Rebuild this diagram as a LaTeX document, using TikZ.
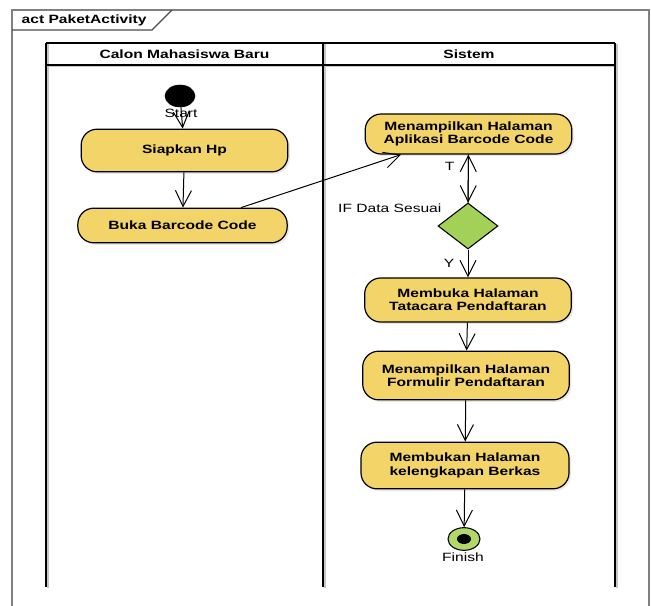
\documentclass[tikz,border=0pt]{standalone}
\usepackage{fontspec}
\setmainfont{Liberation Sans}[FakeStretch=1.3]
\usetikzlibrary{shapes.geometric,arrows.meta,shadows}
\definecolor{actside}{RGB}{242,212,104}
\definecolor{actmid}{RGB}{250,230,155}
\definecolor{decfill}{RGB}{163,209,88}
\definecolor{endfill}{RGB}{178,216,106}
\definecolor{framegray}{RGB}{128,128,128}
\tikzset{
  action/.style={draw, line width=0.9pt, left color=actside, middle color=actmid, right color=actside,
    rounded corners=12pt, minimum width=155pt, inner sep=0pt, align=center,
    drop shadow={shadow xshift=1.5pt, shadow yshift=-1.5pt, fill=black!18},
    font=\bfseries\fontsize{9}{10}\selectfont},
  flow/.style={-{Straight Barb[length=12pt,width=12pt]}, line width=0.75pt},
  guard/.style={inner sep=1pt, font=\fontsize{9}{10}\selectfont},
  lanehead/.style={font=\bfseries\fontsize{9}{10}\selectfont},
  lane/.style={line width=1.5pt},
  laneshade/.style={line width=1.5pt, black!22},
}
\begin{document}
\begin{tikzpicture}[x=0.75pt, y=-0.75pt]
    \useasboundingbox (0,0) rectangle (651,606);
    % frame
    \draw[framegray, line width=0.8pt] (12,606) -- (12,10) -- (649,10) -- (649,606);
    \draw[black!70, line width=0.8pt] (12,30) -- (152,30) -- (172,10);
    \node[lanehead, anchor=west] (title) at (17,20) {act PaketActivity};
    % swimlanes
    \foreach \x in {46,323,615}
        \draw[laneshade] (\x+1.5,44.5) -- (\x+1.5,588.5);
    \draw[laneshade] (46,66.5) -- (616.5,66.5);
    \foreach \y in {43,65}
        \draw[lane] (46,\y) -- (615,\y);
    \foreach \x in {46,323,615}
        \draw[lane] (\x,43) -- (\x,587);
    \node[lanehead] (calon) at (184.5,54) {Calon Mahasiswa Baru};
    \node[lanehead] (sistem) at (469,54) {Sistem};
    % actions
    \node[ellipse, draw, fill=black, minimum width=22.5pt, minimum height=16.5pt, inner sep=0pt] (start) at (180,96) {};
    \node[action, minimum height=32pt] (siapkan) at (184.5,150.5) {Siapkan Hp};
    \node[action, minimum width=157pt, minimum height=26pt] (buka) at (182.5,225.5) {Buka Barcode Code};
    \node[action, minimum height=30pt] (aplikasi) at (468.5,134) {Menampilkan Halaman\\Aplikasi Barcode Code};
    \node[diamond, draw, line width=0.8pt, fill=decfill, minimum width=45pt, minimum height=34.5pt, inner sep=0pt] (decision) at (468,226) {};
    \node[guard, anchor=east] (cond) at (443,208) {IF Data Sesuai};
    \node[action, minimum height=33pt] (tatacara) at (468,300) {Membuka Halaman\\Tatacara Pendaftaran};
    \node[action, minimum height=36.5pt] (formulir) at (466,375.5) {Menampilkan Halaman\\Formulir Pendaftaran};
    \node[action, minimum width=156pt, minimum height=35pt] (berkas) at (465,465.5) {Membukan Halaman\\kelengkapan Berkas};
    \node[ellipse, draw, line width=0.8pt, fill=endfill, minimum width=24pt, minimum height=17pt, inner sep=0pt] (finish) at (464,539) {};
    \node[ellipse, fill=black, minimum width=10.5pt, minimum height=7.5pt, inner sep=0pt] (finishdot) at (finish) {};
    % flows
    \draw[flow] (start) -- (siapkan);
    \node[guard] (startlbl) at (181,113) {Start};
    \draw[flow] (siapkan) -- (buka);
    \draw[flow] (buka.17) -- (aplikasi.197);
    \draw[flow] (aplikasi) -- (decision);
    \draw[flow] (decision) -- node[guard, left=9pt, pos=0.75] (tlbl) {T} (aplikasi);
    \draw[flow] (decision) -- node[guard, left=9pt] (ylbl) {Y} (tatacara);
    \draw[flow] (tatacara) -- (formulir);
    \draw[flow] (formulir) -- (berkas);
    \draw[flow] (berkas) -- (finish);
    \node[guard] (finishlbl) at (463,557) {Finish};
\end{tikzpicture}
\end{document}
